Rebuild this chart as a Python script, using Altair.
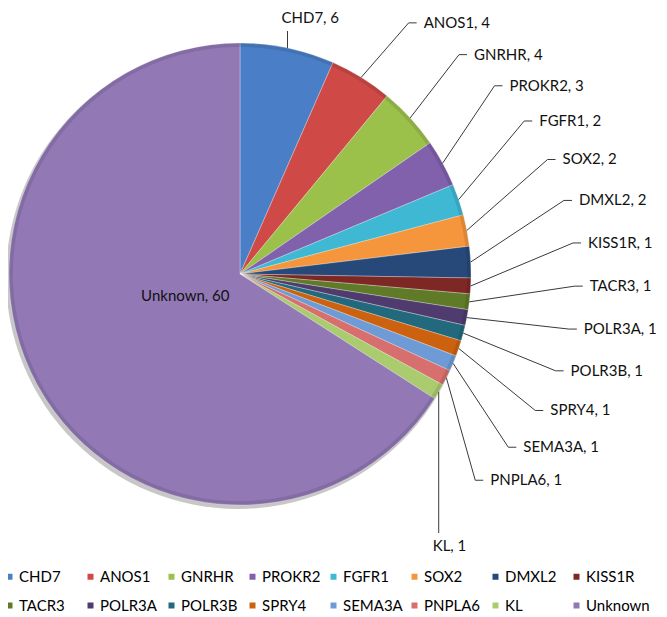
import math
import altair as alt
import pandas as pd

# ---- data -------------------------------------------------------------
genes = ["CHD7", "ANOS1", "GNRHR", "PROKR2", "FGFR1", "SOX2", "DMXL2", "KISS1R",
         "TACR3", "POLR3A", "POLR3B", "SPRY4", "SEMA3A", "PNPLA6", "KL", "Unknown"]
counts = [6, 4, 4, 3, 2, 2, 2, 1, 1, 1, 1, 1, 1, 1, 1, 60]

# ---- style ------------------------------------------------------------
palette = ["#4A7FC8", "#CF4A46", "#9CC14B", "#8160AC", "#3FB8D4", "#F6963C",
           "#27497A", "#7E2826", "#5F7B27", "#4F3B6E", "#22697D", "#CC620F",
           "#6E9BD6", "#D66F6D", "#AACB6E", "#9279B6"]
FONT = "Lato"
W, H = 651, 609          # drawing area (page minus 8px margin)
CX, CY = 232, 266        # pie centre inside the drawing area
R = 231                  # pie radius
LAB_A, LAB_B = 350, 295  # ellipse on which outside labels sit
GAP = 8.4                # minimal angular gap between outside labels (deg)
TOP_Y, BOT_Y = -256, 272 # vertical offset of labels placed straight above/below

# ---- geometry derived from the data -----------------------------------
total = sum(counts)
mids, cum = [], 0
for c in counts:
    mids.append((cum + c / 2) / total * 360.0)
    cum += c

outer = [i for i, c in enumerate(counts) if c / total < 0.5]
inner = [i for i, c in enumerate(counts) if c / total >= 0.5]


def spread(angles, gap):
    clusters = [[a] for a in angles]
    changed = True
    while changed:
        changed = False
        out = []
        for cl in clusters:
            out.append(cl)
            while len(out) > 1:
                a, b = out[-2], out[-1]
                sa = sum(a) / len(a) - gap * (len(a) - 1) / 2
                ea = sa + gap * (len(a) - 1)
                sb = sum(b) / len(b) - gap * (len(b) - 1) / 2
                if sb < ea + gap:
                    out[-2:] = [a + b]
                    changed = True
                else:
                    break
        clusters = out
    res = []
    for cl in clusters:
        s = sum(cl) / len(cl) - gap * (len(cl) - 1) / 2
        res += [s + gap * k for k in range(len(cl))]
    return res


lab_angles = spread([mids[i] for i in outer], GAP)

lab_rows, line_rows = [], []
for i, la in zip(outer, lab_angles):
    m = math.radians(mids[i])
    ex, ey = R * math.sin(m), -R * math.cos(m)
    text = f"{genes[i]}, {counts[i]}"
    if la < 20 or la > 140:
        ty = TOP_Y if math.cos(math.radians(la)) > 0 else BOT_Y
        end = ty + (13 if ty < 0 else -13)
        lab_rows.append(dict(gene=genes[i], label=text, x=ex - 6, y=ty))
        line_rows += [dict(gene=genes[i], pt=0, x=ex, y=ey),
                      dict(gene=genes[i], pt=1, x=ex, y=end)]
    else:
        a = math.radians(la)
        ax, ay = LAB_A * math.sin(a), -LAB_B * math.cos(a)
        lab_rows.append(dict(gene=genes[i], label=text, x=ax, y=ay))
        line_rows += [dict(gene=genes[i], pt=0, x=ex, y=ey),
                      dict(gene=genes[i], pt=1, x=ax - 15, y=ay),
                      dict(gene=genes[i], pt=2, x=ax - 7, y=ay)]

in_rows = []
for i in inner:
    m = math.radians(mids[i])
    in_rows.append(dict(gene=genes[i], label=f"{genes[i]}, {counts[i]}",
                        x=0.27 * R * math.sin(m), y=-0.2 * R * math.cos(m)))

pie_df = pd.DataFrame({"gene": genes, "count": counts, "idx": list(range(len(genes)))})
lab_df = pd.DataFrame(lab_rows)
line_df = pd.DataFrame(line_rows)
in_df = pd.DataFrame(in_rows)

xs = alt.Scale(domain=[-CX, W - CX], nice=False, zero=False)
ys = alt.Scale(domain=[H - CY, -CY], nice=False, zero=False)

shadow = alt.Chart(pd.DataFrame({"k": [0]})).mark_arc(
    theta=0, theta2=2 * math.pi, outerRadius=R + 1, color="#000000", opacity=0.22
).encode(x=alt.value(CX - 2), y=alt.value(CY + 3))

pie = alt.Chart(pie_df).mark_arc(
    outerRadius=R, stroke="#ffffff", strokeWidth=0.6, strokeOpacity=0.5
).encode(
    theta=alt.Theta("count:Q", stack=True),
    color=alt.Color(
        "gene:N",
        scale=alt.Scale(domain=genes, range=palette),
        legend=alt.Legend(
            title=None, orient="none", direction="horizontal",
            legendX=-6, legendY=561, columns=8, padding=0,
            symbolType="square", symbolSize=36, symbolStrokeWidth=0,
            labelFont=FONT, labelFontSize=15, labelColor="#000000",
            labelOffset=2, columnPadding=0, rowPadding=13, gridAlign="all",
        ),
    ),
    order=alt.Order("idx:Q"),
    x=alt.value(CX), y=alt.value(CY),
)

rim = alt.Chart(pd.DataFrame({"k": [0]})).mark_arc(
    theta=0, theta2=2 * math.pi, innerRadius=R - 4, outerRadius=R,
    color="#000000", opacity=0.10
).encode(x=alt.value(CX), y=alt.value(CY))

lines = alt.Chart(line_df).mark_line(color="#3a3a3a", strokeWidth=1).encode(
    x=alt.X("x:Q", scale=xs, axis=None),
    y=alt.Y("y:Q", scale=ys, axis=None),
    detail="gene:N",
    order="pt:Q",
)

labels = alt.Chart(lab_df).mark_text(
    align="left", baseline="middle", font=FONT, fontSize=15, color="#111111"
).encode(
    x=alt.X("x:Q", scale=xs, axis=None),
    y=alt.Y("y:Q", scale=ys, axis=None),
    text="label:N",
)

in_labels = alt.Chart(in_df).mark_text(
    align="center", baseline="middle", font=FONT, fontSize=15, color="#111111"
).encode(
    x=alt.X("x:Q", scale=xs, axis=None),
    y=alt.Y("y:Q", scale=ys, axis=None),
    text="label:N",
)

chart = alt.layer(shadow, pie, rim, lines, labels, in_labels).properties(
    width=W, height=H, padding=0, autosize=alt.AutoSizeParams(type="none")
).configure_view(stroke=None)

chart.save("out.html", embed_options={"renderer": "svg", "actions": False})
